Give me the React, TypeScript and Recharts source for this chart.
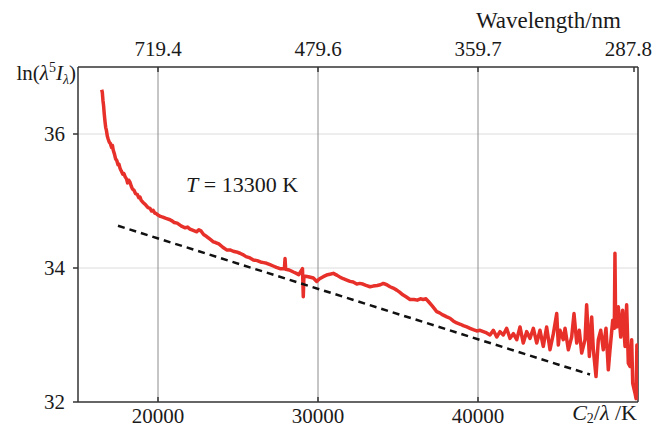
import {
  ComposedChart,
  Line,
  XAxis,
  YAxis,
  ReferenceLine,
} from "recharts";

// C2/λ (K) and ln(λ^5 I)
const spectrumC2 = [
  16480, 16520, 16560, 16600, 16640, 16690, 16730, 16780, 16830, 16880,
  16950, 17020, 17100, 17150, 17200, 17280, 17350, 17430, 17500, 17560,
  17625, 17700, 17800, 17870, 17950, 18030, 18100, 18170, 18250, 18330,
  18400, 18500, 18600, 18700, 18800, 18875, 18950, 19100, 19200, 19375,
  19500, 19600, 19700, 19800, 19900, 20000, 20150, 20300, 20500, 20750,
  20900, 21000, 21200, 21375, 21500, 21700, 21850, 22000, 22200, 22420,
  22550, 22700, 22850, 23040, 23250, 23460, 23600, 23800, 24050, 24290,
  24500, 24700, 24900, 25125, 25300, 25500, 25750, 25960, 26200, 26400,
  26600, 26790, 27000, 27200, 27400, 27625, 27900, 27940, 27980, 28200,
  28460, 28650, 28800, 29030, 29080, 29120, 29400, 29710, 29920, 30100,
  30330, 30600, 30800, 30960, 31200, 31400, 31580, 31800, 32000, 32200,
  32420, 32600, 32800, 33000, 33250, 33450, 33700, 33900, 34080, 34300,
  34500, 34700, 34920, 35100, 35300, 35500, 35750, 36000, 36200, 36400,
  36580, 36750, 36900, 37150, 37420, 37600, 37800, 38050, 38250, 38450,
  38670, 38900, 39080, 39300, 39500, 39700, 39920,
  40125, 40540, 40750, 40960, 41170, 41375, 41580, 41790, 42000, 42210,
  42420, 42625, 42830, 43040, 43250, 43460, 43670, 43875, 44080, 44290,
  44500, 44710, 44920, 45020, 45125, 45330, 45440, 45645, 45855, 46000,
  46170, 46330, 46480, 46690, 46790, 46960, 47105, 47210, 47375, 47520,
  47670, 47830, 48000, 48145, 48250, 48420, 48520, 48560, 48600, 48670,
  48770, 48920, 49040, 49190, 49290, 49395, 49500, 49605, 49670, 49815,
  49880, 49930, 49960,
];
const spectrumLn = [
  36.66, 36.62, 36.5, 36.42, 36.3, 36.18, 36.1, 36.05, 35.97, 35.93,
  35.88, 35.86, 35.8, 35.83, 35.76, 35.7, 35.63, 35.6, 35.54, 35.55,
  35.49, 35.45, 35.4, 35.41, 35.36, 35.33, 35.27, 35.31, 35.28, 35.22,
  35.18, 35.16, 35.11, 35.1, 35.05, 35.06, 35.01, 34.97, 34.95, 34.9,
  34.89, 34.85, 34.86, 34.82, 34.81, 34.79, 34.77, 34.76, 34.74, 34.72,
  34.7, 34.68, 34.67, 34.64, 34.62, 34.6, 34.61, 34.58, 34.56, 34.54,
  34.57, 34.55, 34.5, 34.47, 34.43, 34.39, 34.38, 34.36, 34.31, 34.27,
  34.27, 34.25, 34.24, 34.22, 34.2, 34.17, 34.15, 34.12, 34.11, 34.09,
  34.08, 34.07, 34.05, 34.03, 34.01, 33.99, 33.99, 34.14, 33.98, 33.97,
  33.94, 33.92, 33.9, 33.99, 33.57, 33.88, 33.87, 33.85, 33.8, 33.84,
  33.87, 33.9, 33.91, 33.92, 33.89, 33.86, 33.84, 33.82, 33.8, 33.79,
  33.76, 33.77, 33.76, 33.74, 33.72, 33.73, 33.74, 33.75, 33.77, 33.75,
  33.72, 33.7, 33.67, 33.64, 33.6, 33.57, 33.53, 33.53, 33.52, 33.54,
  33.53, 33.54, 33.5, 33.43, 33.35, 33.33, 33.3, 33.27, 33.25, 33.21,
  33.18, 33.16, 33.14, 33.12, 33.1, 33.08, 33.06,
  33.07, 33.03, 33.0, 33.07, 32.97, 33.05, 33.0, 33.1, 32.95, 33.02,
  32.93, 33.12, 32.88, 33.05, 32.95, 33.1, 32.88, 33.07, 32.83, 33.12,
  32.78, 33.02, 33.32, 32.85, 33.07, 32.93, 33.1, 32.78, 32.97, 33.32,
  32.88, 33.07, 32.73, 32.93, 33.45, 32.68, 33.27, 32.78, 32.38, 32.93,
  33.07, 32.78, 33.1, 32.48, 32.78, 33.22, 33.1, 34.22, 33.2, 33.12,
  33.42, 32.97, 33.37, 32.83, 33.45, 32.58, 32.53, 32.93, 32.28, 32.13,
  32.05, 32.85, 32.1,
];

// Wien fit, T = 13300 K
const fitC2 = [17500, 47000];
const fitLn = [34.63, 32.41];

const bottomTicks = [20000, 30000, 40000];
const topTicks = [20000, 30000, 40000, 50000];
const yTicks = [32, 34, 36];

const C2_NM_K = 14388000;

const spectrum = spectrumC2.map((x, i) => ({ x, y: spectrumLn[i] }));
const fit = fitC2.map((x, i) => ({ x, y: fitLn[i] }));

const FONT = "'Liberation Serif', 'Times New Roman', serif";
const INK = "#1a1a1a";
const FRAME = "#333";

const BottomTick = ({ x, y, payload }: any) => (
  <g>
    <line x1={x} x2={x} y1={y} y2={y - 5} stroke={FRAME} strokeWidth={1.5} />
    <text x={x} y={y + 21} textAnchor="middle" fill={INK} fontFamily={FONT} fontSize={21}>
      {payload.value}
    </text>
  </g>
);

const TopTick = ({ x, y, payload }: any) => {
  // last label is pulled in so it stays on the page
  const last = payload.value === 50000;
  return (
    <g>
      <line x1={x} x2={x} y1={y} y2={y + 5} stroke={FRAME} strokeWidth={1.5} />
      <text
        x={last ? 652 : x}
        y={y - 11}
        textAnchor={last ? "end" : "middle"}
        fill={INK}
        fontFamily={FONT}
        fontSize={21}
      >
        {(C2_NM_K / payload.value).toFixed(1)}
      </text>
    </g>
  );
};

export default function App() {
  return (
    <div style={{ position: "absolute", left: 0, top: 0, width: 654, height: 428, background: "#fff" }}>
      <ComposedChart
        width={654}
        height={428}
        margin={{ top: 0, right: 16, bottom: 0, left: 0 }}
      >
        <XAxis
          xAxisId="bottom"
          type="number"
          dataKey="x"
          orientation="bottom"
          domain={[15000, 50000]}
          allowDataOverflow
          ticks={bottomTicks}
          height={26}
          tickSize={0}
          tickMargin={0}
          tickLine={false}
          tick={<BottomTick />}
          axisLine={{ stroke: FRAME, strokeWidth: 1.5 }}
        />
        <XAxis
          xAxisId="top"
          type="number"
          dataKey="x"
          orientation="top"
          domain={[15000, 50000]}
          allowDataOverflow
          ticks={topTicks}
          height={67}
          tickSize={0}
          tickMargin={0}
          tickLine={false}
          tick={<TopTick />}
          axisLine={{ stroke: FRAME, strokeWidth: 1.5 }}
        />
        <YAxis
          type="number"
          domain={[32, 37]}
          allowDataOverflow
          ticks={yTicks}
          width={78}
          tickSize={5}
          tickMargin={8}
          tickLine={{ stroke: FRAME, strokeWidth: 1.5 }}
          axisLine={{ stroke: FRAME, strokeWidth: 1.5 }}
          tick={{ fill: INK, fontFamily: FONT, fontSize: 21 }}
        />

        {yTicks.slice(1).map((v) => (
          <ReferenceLine key={"h" + v} xAxisId="bottom" y={v} stroke="#dcdcdc" strokeWidth={1} />
        ))}
        {bottomTicks.map((v) => (
          <ReferenceLine key={"v" + v} xAxisId="bottom" x={v} stroke="#8c8c8c" strokeWidth={1} />
        ))}
        <ReferenceLine xAxisId="bottom" x={50000} stroke={FRAME} strokeWidth={1.5} />

        <Line
          xAxisId="bottom"
          data={spectrum}
          dataKey="y"
          type="linear"
          stroke="#e8302a"
          strokeWidth={3.5}
          strokeLinejoin="round"
          dot={false}
          activeDot={false}
          isAnimationActive={false}
        />
        <Line
          xAxisId="top"
          data={fit}
          dataKey="y"
          type="linear"
          stroke="#111"
          strokeWidth={2.5}
          strokeDasharray="7 5"
          dot={false}
          activeDot={false}
          isAnimationActive={false}
        />
      </ComposedChart>

      <svg
        width={654}
        height={428}
        style={{ position: "absolute", left: 0, top: 0, pointerEvents: "none" }}
      >
        <g fontFamily={FONT} fill={INK}>
          <text x={621} y={28} textAnchor="end" fontSize={23}>
            Wavelength/nm
          </text>
          <text x={76} y={80} textAnchor="end" fontSize={21}>
            ln(<tspan fontStyle="italic">λ</tspan>
            <tspan fontSize={14} dy={-8}>5</tspan>
            <tspan fontStyle="italic" dy={8}>I</tspan>
            <tspan fontStyle="italic" fontSize={14} dy={4}>λ</tspan>
            <tspan dy={-4}>)</tspan>
          </text>
          <text x={186} y={192} fontSize={22}>
            <tspan fontStyle="italic">T</tspan> = 13300 K
          </text>
          <text x={637} y={420} textAnchor="end" fontSize={22}>
            <tspan fontStyle="italic">C</tspan>
            <tspan fontSize={14} dy={3}>2</tspan>
            <tspan dy={-3}>/</tspan>
            <tspan fontStyle="italic">λ</tspan> /K
          </text>
        </g>
      </svg>
    </div>
  );
}
